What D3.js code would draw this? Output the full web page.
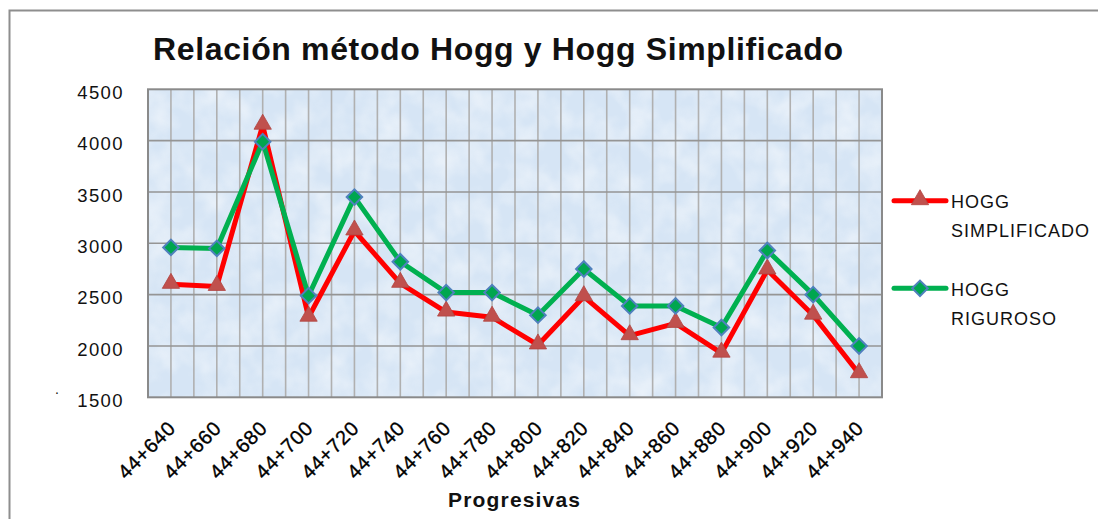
<!DOCTYPE html>
<html>
<head>
<meta charset="utf-8">
<script src="https://cdn.jsdelivr.net/npm/d3@7"></script>
<style>
  html, body { margin: 0; padding: 0; background: #ffffff; }
  svg { display: block; font-family: "Liberation Sans", Arial, sans-serif; }
</style>
</head>
<body>
<svg id="chart" width="1098" height="519"></svg>
<script>
// Progresivas (stations) along the alignment
const categories = ["44+640", "44+660", "44+680", "44+700", "44+720", "44+740", "44+760", "44+780",
                    "44+800", "44+820", "44+840", "44+860", "44+880", "44+900", "44+920", "44+940"];

// HOGG SIMPLIFICADO
const hoggSimplificado = [2600, 2580, 4150, 2280, 3120, 2610, 2330, 2280,
                          2010, 2480, 2100, 2220, 1930, 2740, 2300, 1730];

// HOGG RIGUROSO
const hoggRiguroso = [2960, 2950, 3990, 2490, 3450, 2820, 2520, 2520,
                      2300, 2750, 2390, 2390, 2180, 2930, 2500, 2000];

const yTicks = [1500, 2000, 2500, 3000, 3500, 4000, 4500];

const seriesNames = [["HOGG", "SIMPLIFICADO"], ["HOGG", "RIGUROSO"]];

const svg = d3.select("#chart");

// plot area
const plot = { left: 148, right: 882, top: 89.3, bottom: 397.3 };

const x = d3.scaleBand().domain(categories).range([plot.left, plot.right]).padding(0);
const y = d3.scaleLinear().domain([1500, 4500]).range([plot.bottom, plot.top]);
const cx = d => x(d) + x.bandwidth() / 2;

// outer chart frame (top and left edges)
svg.append("path")
  .attr("d", "M9.5,519 L9.5,10.5 L1098,10.5")
  .attr("fill", "none").attr("stroke", "#8e8e8e").attr("stroke-width", 2);

// tissue-paper texture for the plot background
const defs = svg.append("defs");
const filt = defs.append("filter").attr("id", "tissue")
  .attr("x", 0).attr("y", 0).attr("width", "100%").attr("height", "100%");
filt.append("feTurbulence").attr("type", "fractalNoise")
  .attr("baseFrequency", "0.035").attr("numOctaves", 3).attr("seed", 7);
filt.append("feColorMatrix").attr("type", "matrix")
  .attr("values", "0 0 0 0 1  0 0 0 0 1  0 0 0 0 1  1.6 0 0 0 -0.55");

svg.append("rect")
  .attr("x", plot.left).attr("y", plot.top)
  .attr("width", plot.right - plot.left).attr("height", plot.bottom - plot.top)
  .attr("fill", "#d6e5f5");
svg.append("rect")
  .attr("x", plot.left).attr("y", plot.top)
  .attr("width", plot.right - plot.left).attr("height", plot.bottom - plot.top)
  .attr("fill", "#ffffff").attr("filter", "url(#tissue)").attr("opacity", 0.55);

// vertical gridlines: at category centres and band boundaries
const vLines = [];
categories.forEach((c, i) => {
  if (i > 0) vLines.push(x(c));
  vLines.push(cx(c));
});
svg.append("g").selectAll("line").data(vLines).join("line")
  .attr("x1", d => d).attr("x2", d => d)
  .attr("y1", plot.top).attr("y2", plot.bottom)
  .attr("stroke", "#b0b0b0").attr("stroke-width", 1.6);

// horizontal gridlines
svg.append("g").selectAll("line").data(yTicks.slice(1, -1)).join("line")
  .attr("x1", plot.left).attr("x2", plot.right)
  .attr("y1", d => y(d)).attr("y2", d => y(d))
  .attr("stroke", "#959595").attr("stroke-width", 1.6);

// plot border
svg.append("rect")
  .attr("x", plot.left).attr("y", plot.top)
  .attr("width", plot.right - plot.left).attr("height", plot.bottom - plot.top)
  .attr("fill", "none").attr("stroke", "#8a8a8a").attr("stroke-width", 2);

// y axis
const yAxis = svg.append("g")
  .attr("transform", `translate(${plot.left},0)`)
  .call(d3.axisLeft(y).tickValues(yTicks).tickSize(0).tickPadding(24).tickFormat(d3.format("d")));
yAxis.select(".domain").remove();
yAxis.selectAll("text")
  .attr("dy", "0.5em")
  .attr("font-size", 18.5)
  .attr("letter-spacing", 1.4)
  .attr("fill", "#111")
  .attr("font-family", "'Liberation Sans', Arial, sans-serif");

// x axis with slanted labels
const xAxis = svg.append("g")
  .attr("transform", `translate(0,${plot.bottom})`)
  .call(d3.axisBottom(x).tickSize(0));
xAxis.select(".domain").remove();
xAxis.selectAll("text")
  .attr("x", 0).attr("y", 0).attr("dy", 0)
  .attr("text-anchor", "end")
  .attr("transform", "translate(6,32) rotate(-45)")
  .attr("font-size", 20)
  .attr("letter-spacing", 0.8)
  .attr("fill", "#000")
  .attr("stroke", "#000").attr("stroke-width", 0.35)
  .attr("font-family", "'Liberation Sans', Arial, sans-serif");

// series drawing
const line = d3.line().x((d, i) => cx(categories[i])).y(d => y(d));
const triangle = d3.symbol().type(d3.symbolTriangle).size(130);
const diamond = d3.symbol().type(d3.symbolSquare).size(120);

function drawSeries(values, lineColor, marker) {
  svg.append("path").datum(values)
    .attr("d", line)
    .attr("fill", "none").attr("stroke", lineColor)
    .attr("stroke-width", 5).attr("stroke-linejoin", "round").attr("stroke-linecap", "round");
  const g = svg.append("g");
  values.forEach((v, i) => marker(g, cx(categories[i]), y(v)));
}

function triMarker(g, px, py) {
  g.append("path").attr("d", triangle)
    .attr("transform", `translate(${px},${py - 1})`)
    .attr("fill", "#c0504d").attr("stroke", "#b04440").attr("stroke-width", 0.8);
}
function diaMarker(g, px, py) {
  g.append("path").attr("d", diamond)
    .attr("transform", `translate(${px},${py}) rotate(45)`)
    .attr("fill", "#00a64f").attr("stroke", "#4f81bd").attr("stroke-width", 2);
}

drawSeries(hoggSimplificado, "#ff0000", triMarker);
drawSeries(hoggRiguroso, "#00b050", diaMarker);

// legend
const legend = svg.append("g");
const legendRows = [
  { y: 200.7, color: "#ff0000", marker: triMarker, names: seriesNames[0] },
  { y: 288.3, color: "#00b050", marker: diaMarker, names: seriesNames[1] }
];
legendRows.forEach(r => {
  legend.append("line")
    .attr("x1", 894).attr("x2", 946).attr("y1", r.y).attr("y2", r.y)
    .attr("stroke", r.color).attr("stroke-width", 5).attr("stroke-linecap", "round");
  r.marker(legend, 920, r.y);
  const t = legend.append("text")
    .attr("x", 951).attr("y", r.y + 7.5)
    .attr("font-size", 18).attr("letter-spacing", 1).attr("fill", "#111");
  t.append("tspan").attr("x", 951).text(r.names[0]);
  t.append("tspan").attr("x", 951).attr("dy", 29).text(r.names[1]);
});

// title
svg.append("text")
  .attr("x", 498).attr("y", 60)
  .attr("text-anchor", "middle")
  .attr("font-size", 32).attr("font-weight", "bold").attr("fill", "#111")
  .attr("textLength", 690)
  .text("Relación método Hogg y Hogg Simplificado");

// category axis title
svg.append("text")
  .attr("x", 514).attr("y", 507)
  .attr("text-anchor", "middle")
  .attr("font-size", 21).attr("font-weight", "bold").attr("fill", "#111")
  .attr("textLength", 132)
  .text("Progresivas");

// stray mark left of the value axis
svg.append("text")
  .attr("x", 55).attr("y", 394)
  .attr("font-size", 14).attr("fill", "#111")
  .text(".");
</script>
</body>
</html>
